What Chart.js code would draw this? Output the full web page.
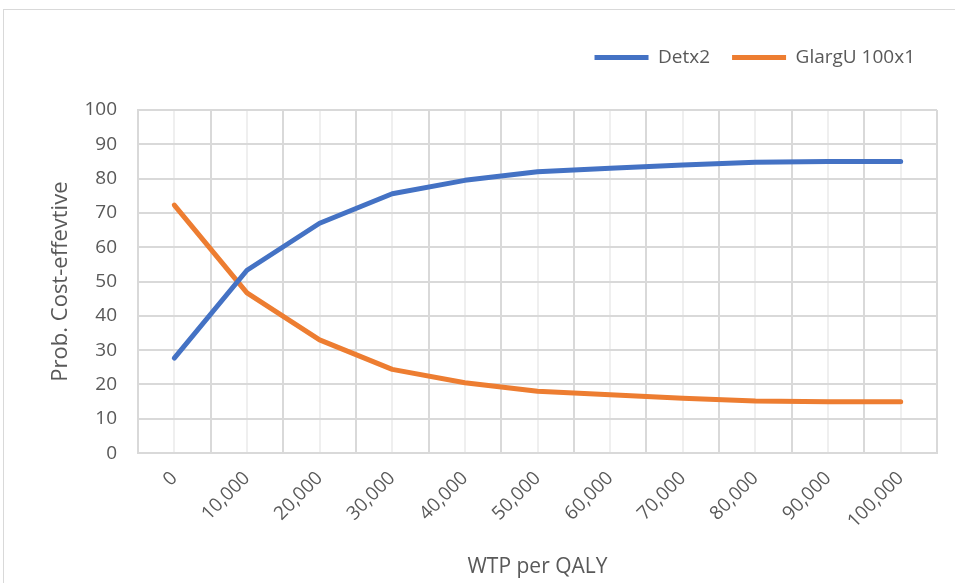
<!DOCTYPE html>
<html>
<head>
<meta charset="utf-8">
<script src="https://cdn.jsdelivr.net/npm/chart.js@4.4.1/dist/chart.umd.min.js"></script>
<style>
  html, body { margin: 0; padding: 0; background: #fff; }
  #wrap { position: absolute; left: 0; top: 0; width: 955px; height: 583px; }
  #frame { position: absolute; left: 3px; top: 9px; width: 1000px; height: 700px; border: 1px solid #d9d9d9; }
  canvas { position: absolute; left: 0; top: 0; }
</style>
</head>
<body>
<div id="wrap">
  <div id="frame"></div>
  <canvas id="chart" width="955" height="583"></canvas>
</div>
<script>
  // WTP thresholds (x categories)
  var wtp = [0, 10000, 20000, 30000, 40000, 50000, 60000, 70000, 80000, 90000, 100000];
  var tickLabels = ['0', '10,000', '20,000', '30,000', '40,000', '50,000', '60,000', '70,000', '80,000', '90,000', '100,000'];

  // probability cost-effective (%)
  var detx2 = [27.7, 53.3, 67.0, 75.6, 79.5, 82.0, 83.0, 84.0, 84.8, 85.0, 85.0];
  var glargU = [72.3, 46.7, 33.0, 24.4, 20.5, 18.0, 17.0, 16.0, 15.2, 15.0, 15.0];

  var yTicks = [0, 10, 20, 30, 40, 50, 60, 70, 80, 90, 100];

  var textColor = '#595959';
  var fontFamily = '"Open Sans", Lato, sans-serif';

  function toPoints(vals) {
    return vals.map(function(v, i) { return { x: wtp[i], y: v }; });
  }

  function lineDataset(label, vals, color) {
    return {
      label: label,
      data: toPoints(vals),
      borderColor: color,
      backgroundColor: color,
      borderWidth: 5,
      borderCapStyle: 'round',
      borderJoinStyle: 'round',
      pointRadius: 0,
      pointHoverRadius: 0,
      tension: 0,
      fill: false
    };
  }

  // extra room between legend and plot, like the excel chart
  var legendGap = {
    id: 'legendGap',
    beforeInit: function(chart) {
      var fit = chart.legend.fit;
      chart.legend.fit = function() {
        fit.bind(chart.legend)();
        this.height += 33;
      };
    }
  };

  new Chart(document.getElementById('chart').getContext('2d'), {
    type: 'line',
    data: {
      datasets: [
        lineDataset('Detx2', detx2, '#4472C4'),
        lineDataset('GlargU 100x1', glargU, '#ED7D31')
      ]
    },
    plugins: [legendGap],
    options: {
      responsive: false,
      animation: false,
      layout: { padding: { left: 48, right: 18, top: 26, bottom: 3 } },
      plugins: {
        tooltip: { enabled: false },
        legend: {
          position: 'top',
          align: 'end',
          labels: {
            usePointStyle: true,
            pointStyle: 'line',
            pointStyleWidth: 54,
            boxHeight: 19,
            color: textColor,
            padding: 22,
            font: { family: fontFamily, size: 19 }
          }
        }
      },
      scales: {
        x: {
          type: 'linear',
          min: -5000,
          max: 105000,
          afterBuildTicks: function(axis) {
            var t = [];
            for (var v = -5000; v <= 105000; v += 5000) t.push({ value: v });
            axis.ticks = t;
          },
          afterFit: function(axis) {
            axis.paddingRight = 0;
            axis.paddingLeft = 0;
          },
          ticks: {
            autoSkip: false,
            minRotation: 45,
            maxRotation: 45,
            padding: 14,
            color: textColor,
            font: { family: fontFamily, size: 19 },
            callback: function(value) {
              var i = wtp.indexOf(value);
              return i >= 0 ? tickLabels[i] : '';
            }
          },
          grid: {
            drawTicks: false,
            lineWidth: 2,
            color: function(ctx) {
              if (!ctx.tick) return '#d9d9d9';
              return wtp.indexOf(ctx.tick.value) >= 0 ? '#efefef' : '#d9d9d9';
            }
          },
          border: { color: '#d9d9d9', width: 2 },
          title: {
            display: true,
            text: 'WTP per QALY',
            color: textColor,
            padding: { top: 8, bottom: 0 },
            font: { family: fontFamily, size: 21 }
          }
        },
        y: {
          min: 0,
          max: 100,
          afterBuildTicks: function(axis) {
            axis.ticks = yTicks.map(function(v) { return { value: v }; });
          },
          afterFit: function(axis) {
            axis.width = 90;
          },
          ticks: {
            padding: 21,
            color: textColor,
            font: { family: fontFamily, size: 19 }
          },
          grid: {
            drawTicks: false,
            lineWidth: 2,
            color: '#d9d9d9'
          },
          border: { color: '#d9d9d9', width: 2 },
          title: {
            display: true,
            text: 'Prob. Cost-effevtive',
            color: textColor,
            padding: { top: 0, bottom: 4 },
            font: { family: fontFamily, size: 22 }
          }
        }
      }
    }
  });
</script>
</body>
</html>
